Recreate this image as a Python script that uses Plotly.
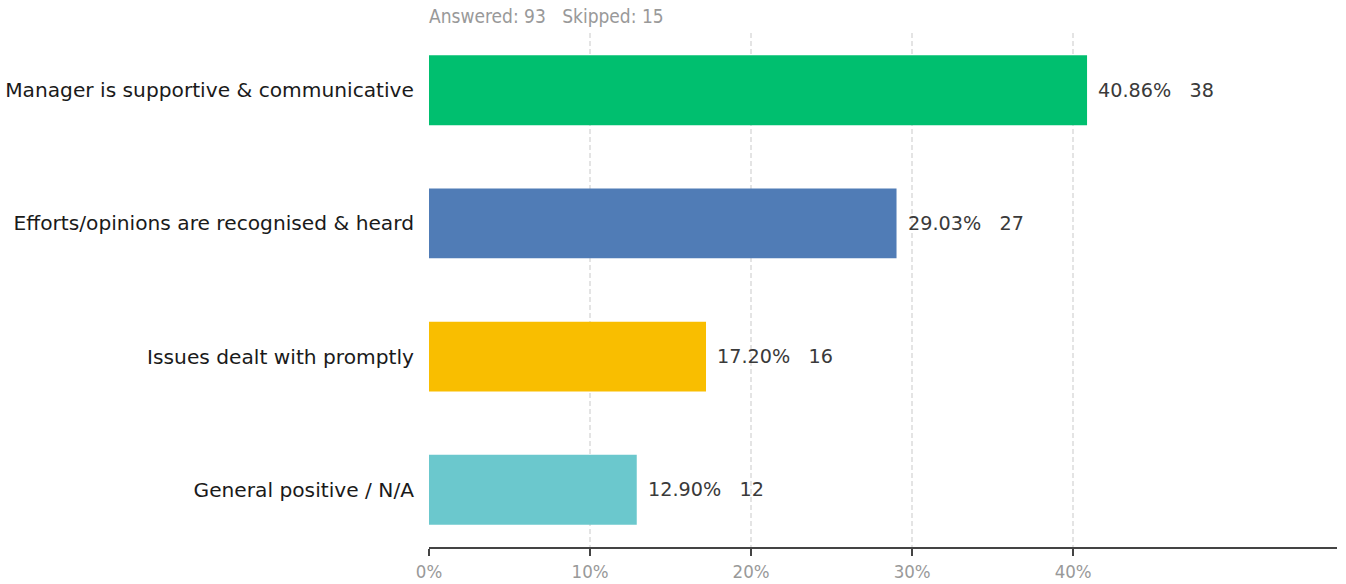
import plotly.graph_objects as go

categories = [
    "Manager is supportive & communicative",
    "Efforts/opinions are recognised & heard",
    "Issues dealt with promptly",
    "General positive / N/A",
]
percentages = [40.86, 29.03, 17.20, 12.90]
counts = [38, 27, 16, 12]
colors = ["#00BF6F", "#507CB6", "#F9BE00", "#6BC8CD"]
tick_values = [0, 10, 20, 30, 40]
tick_labels = ["0%", "10%", "20%", "30%", "40%"]
answered = 93
skipped = 15

fig = go.Figure()
fig.add_trace(go.Bar(
    x=percentages,
    y=categories,
    orientation="h",
    marker=dict(color=colors, line=dict(width=0)),
    width=0.525,
    hoverinfo="skip",
))

for cat, pct, n in zip(categories, percentages, counts):
    fig.add_annotation(
        x=pct, y=cat, xref="x", yref="y",
        text=f"{pct:.2f}%\u00a0\u00a0\u00a0{n}",
        showarrow=False, xanchor="left", xshift=9,
        font=dict(family="DejaVu Sans", size=19.2, color="#3a3a3a"),
    )

fig.add_annotation(
    x=0, y=1, xref="paper", yref="paper",
    text=f"Answered: {answered}\u00a0\u00a0\u00a0Skipped: {skipped}",
    showarrow=False, xanchor="left", yanchor="bottom", xshift=-2, yshift=4,
    font=dict(family="DejaVu Sans Condensed", size=19, color="#999999"),
)

fig.update_layout(
    width=1346, height=584,
    margin=dict(l=429, r=9, t=33, b=37),
    paper_bgcolor="white", plot_bgcolor="white",
    showlegend=False,
    xaxis=dict(
        range=[0, 56.38],
        tickvals=tick_values, ticktext=tick_labels,
        showgrid=True, gridcolor="#e4e4e4", griddash="5px,3px", gridwidth=2,
        zeroline=False,
        showline=True, linecolor="#444444", linewidth=2,
        ticks="outside", ticklen=7, tickcolor="#444444", tickwidth=2,
        tickfont=dict(family="DejaVu Sans Condensed", size=18.5, color="#999999"),
        automargin=False,
        fixedrange=True,
    ),
    yaxis=dict(
        categoryorder="array", categoryarray=categories,
        autorange=False, range=[3.43, -0.43],
        showgrid=False, zeroline=False, showline=False,
        ticks="", ticklabelstandoff=14,
        tickfont=dict(family="DejaVu Sans", size=20.2, color="#1a1a1a"),
        automargin=False,
        fixedrange=True,
    ),
)

fig.write_html("out.html")
